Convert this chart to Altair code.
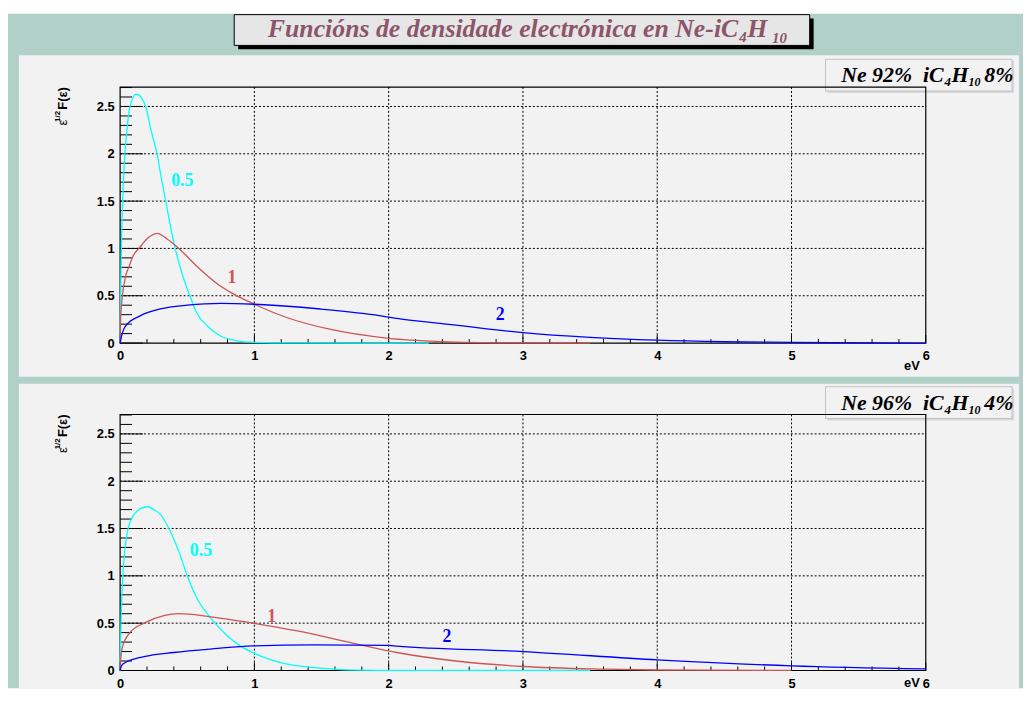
import altair as alt
import pandas as pd

# ---------------- data ----------------
series_names = ["0.5", "1", "2"]
series_colors = ["#00ffff", "#cc5555", "#0000ff"]

# top panel: Ne 92% iC4H10 8%
top_c_x = [0, 0.005, 0.01, 0.025, 0.05, 0.074, 0.12, 0.16, 0.19, 0.232, 0.275, 0.31, 0.34, 0.373, 0.41, 0.46, 0.52, 0.57, 0.65, 0.746, 0.87, 1.0, 1.3, 2.3]
top_c_y = [0, 0.6, 1.05, 1.72, 2.24, 2.5, 2.63, 2.59, 2.5, 2.24, 2.0, 1.72, 1.5, 1.25, 1.0, 0.74, 0.5, 0.32, 0.18, 0.077, 0.024, 0.007, 0.001, 0]
top_r_x = [0, 0.005, 0.017, 0.04, 0.067, 0.1, 0.14, 0.215, 0.276, 0.35, 0.437, 0.573, 0.72, 0.83, 1.0, 1.24, 1.56, 2.0, 2.4, 2.8, 3.5]
top_r_y = [0, 0.3, 0.5, 0.7, 0.81, 0.93, 1.0, 1.12, 1.16, 1.1, 1.0, 0.81, 0.63, 0.53, 0.41, 0.27, 0.146, 0.05, 0.015, 0.003, 0]
top_b_x = [0, 0.01, 0.04, 0.153, 0.3, 0.5, 0.75, 1.0, 1.49, 1.88, 2.06, 2.5, 2.73, 3.0, 3.5, 4.0, 4.5, 5.0, 6.0]
top_b_y = [0, 0.07, 0.18, 0.29, 0.36, 0.4, 0.42, 0.41, 0.36, 0.3, 0.26, 0.19, 0.15, 0.11, 0.06, 0.03, 0.014, 0.007, 0.0]

# bottom panel: Ne 96% iC4H10 4%
bot_c_x = [0, 0.005, 0.01, 0.03, 0.06, 0.104, 0.15, 0.21, 0.25, 0.3, 0.363, 0.437, 0.5, 0.573, 0.66, 0.707, 0.795, 0.894, 1.0, 1.21, 1.49, 1.68, 2.0, 3.5]
bot_c_y = [0, 0.4, 0.67, 1.19, 1.5, 1.65, 1.71, 1.73, 1.7, 1.65, 1.5, 1.26, 1.0, 0.76, 0.58, 0.5, 0.37, 0.26, 0.18, 0.077, 0.024, 0.007, 0.002, 0]
bot_r_x = [0, 0.005, 0.017, 0.067, 0.178, 0.326, 0.437, 0.66, 0.99, 1.31, 1.73, 2.06, 2.5, 3.0, 3.6, 4.0, 5.0]
bot_r_y = [0, 0.13, 0.25, 0.39, 0.5, 0.58, 0.6, 0.57, 0.5, 0.42, 0.29, 0.19, 0.1, 0.042, 0.014, 0.005, 0]
bot_b_x = [0, 0.01, 0.03, 0.178, 0.4, 0.7, 0.99, 1.44, 2.0, 2.06, 3.0, 4.0, 5.0, 6.0]
bot_b_y = [0, 0.05, 0.077, 0.146, 0.19, 0.23, 0.26, 0.27, 0.265, 0.258, 0.2, 0.112, 0.049, 0.017]

# curve labels
top_lab_x = [0.463, 0.833, 2.83]
top_lab_y = [1.71, 0.686, 0.293]
bot_lab_x = [0.602, 1.128, 2.435]
bot_lab_y = [1.26, 0.563, 0.356]

# axes
x_major = [0, 1, 2, 3, 4, 5, 6]
y_major = [0, 0.5, 1, 1.5, 2, 2.5]
x_grid = [1, 2, 3, 4, 5]
y_grid = [0.5, 1, 1.5, 2, 2.5]
x_minor = [round(i * 0.2, 1) for i in range(31) if i % 5]
y_minor = [round(i * 0.1, 1) for i in range(28) if i % 5]
X_MAX = 6
Y_MAX = 2.705

NB = "\u00a0"
title_main = "Funcións de densidade electrónica en Ne-iC"
top_legend = ["Ne 92%" + NB + NB + "iC", "4", "H", "10", "8%"]
bot_legend = ["Ne 96%" + NB + NB + "iC", "4", "H", "10", "4%"]

# ---------------- style ----------------
W, H = 812, 258
GREEN = "#b0d0c8"
PANEL = "#f2f2f2"
TITLE_COL = "#8c5569"
SERIF = "Liberation Serif"
SANS = "Liberation Sans"

one = pd.DataFrame({"a": [0]})
xs = alt.Scale(domain=[0, X_MAX], nice=False, zero=False)
ys = alt.Scale(domain=[0, Y_MAX], nice=False, zero=False)
cs = alt.Scale(domain=series_names, range=series_colors)

ax_common = dict(grid=False, ticks=False, domain=False, labelFont=SANS, labelFontWeight="bold",
                 labelFontSize=13, labelColor="black", labelFlush=False, labelOverlap=False,
                 title=None, zindex=1)
x_axis = alt.Axis(values=x_major, format="d", labelPadding=7, **ax_common)
y_axis = alt.Axis(values=y_major, format="~g", labelPadding=6, **ax_common)


def X(f="x"):
    return alt.X(f + ":Q", scale=xs, axis=x_axis)


def Y(f="y"):
    return alt.Y(f + ":Q", scale=ys, axis=y_axis)


def rect(x1, x2, y1, y2, **kw):
    return alt.Chart(one).mark_rect(**kw).encode(
        x=alt.value(x1), x2=alt.value(x2), y=alt.value(y1), y2=alt.value(y2))


def txt(s, x, y, **kw):
    return alt.Chart(one).mark_text(text=s, **kw).encode(x=alt.value(x), y=alt.value(y))


def panel(curves, lab_x, lab_y, legend, top):
    rows = []
    for name, (cx, cy) in zip(series_names, curves):
        for a, b in zip(cx, cy):
            rows.append({"x": a, "y": b, "s": name})
    df = pd.DataFrame(rows)
    labdf = pd.DataFrame({"x": lab_x, "y": lab_y, "s": series_names})

    layers = []
    if top:
        layers.append(rect(-113, 910, -74, 606, fill=GREEN))
        layers.append(rect(-102, 906, -32, 292, fill=PANEL))
        layers.append(rect(119, 699, -69, -38, fill="black"))
        layers.append(rect(115, 695, -73, -42, fill="#e6e6e6", stroke="black", strokeWidth=1))
        tk = dict(font=SERIF, fontWeight="bold", fontStyle="italic", color=TITLE_COL, baseline="alphabetic")
        layers.append(txt(title_main, 623, -50, align="right", fontSize=26, **tk))
        layers.append(txt("4", 624, -45, align="left", fontSize=15, **tk))
        layers.append(txt("H", 632, -50, align="left", fontSize=26, **tk))
        layers.append(txt("10", 657, -44, align="left", fontSize=15, **tk))
    else:
        layers.append(rect(-102, 906, -31, 276, fill=PANEL))

    # legend box
    layers.append(rect(713, 901, -26, 6, fill="#d8d8d8"))
    layers.append(rect(711, 899, -28, 4, fill="#f2f2f2", stroke="#c0c0c0", strokeWidth=1))
    lk = dict(font=SERIF, fontWeight="bold", fontStyle="italic", color="black", baseline="alphabetic")
    layers.append(txt(legend[0], 830, -5, align="right", fontSize=22, **lk))
    layers.append(txt(legend[1], 831, -1, align="left", fontSize=13, **lk))
    layers.append(txt(legend[2], 838, -5, align="left", fontSize=22, **lk))
    layers.append(txt(legend[3], 855, -1, align="left", fontSize=12, **lk))
    layers.append(txt(legend[4], 871, -5, align="left", fontSize=22, **lk))

    # grid
    dash = dict(color="black", strokeDash=[2, 2], strokeWidth=1)
    layers.append(alt.Chart(pd.DataFrame({"x": x_grid})).mark_rule(**dash).encode(
        x=X(), y=alt.value(0), y2=alt.value(H)))
    layers.append(alt.Chart(pd.DataFrame({"y": y_grid})).mark_rule(**dash).encode(
        y=Y(), x=alt.value(0), x2=alt.value(W)))

    # ticks (inside the frame)
    layers.append(alt.Chart(pd.DataFrame({"x": x_minor})).mark_rule(color="black").encode(
        x=X(), y=alt.value(H), y2=alt.value(H - 4)))
    layers.append(alt.Chart(pd.DataFrame({"x": x_major})).mark_rule(color="black").encode(
        x=X(), y=alt.value(H), y2=alt.value(H - 8)))
    layers.append(alt.Chart(pd.DataFrame({"y": y_minor})).mark_rule(color="black").encode(
        y=Y(), x=alt.value(0), x2=alt.value(12)))
    layers.append(alt.Chart(pd.DataFrame({"y": y_major})).mark_rule(color="black").encode(
        y=Y(), x=alt.value(0), x2=alt.value(23)))

    # frame
    layers.append(rect(0, W, 0, H, fillOpacity=0, stroke="black", strokeWidth=1.2))

    # curves
    layers.append(alt.Chart(df).mark_line(strokeWidth=1.3, interpolate="monotone").encode(
        x=X(), y=Y(),
        color=alt.Color("s:N", scale=cs, legend=None),
        order=alt.Order("x:Q"),
    ))
    layers.append(alt.Chart(labdf).mark_text(font=SERIF, fontWeight="bold", fontSize=18,
                                               align="center", baseline="middle").encode(
        x=X(), y=Y(),
        text="s:N",
        color=alt.Color("s:N", scale=cs, legend=None),
    ))

    # axis titles
    yk = dict(font=SANS, color="black", angle=270, align="right", baseline="alphabetic")
    layers.append(txt("F(ε)", -54, 0, fontSize=13, fontWeight="bold", **yk))
    layers.append(txt("1/2", -61, 24, fontSize=8, fontWeight="bold", **yk))
    layers.append(txt("ε", -54, 33, fontSize=13, **yk))
    layers.append(txt("eV", 806, 285 if top else 275, font=SANS, fontWeight="bold", fontSize=13,
                      align="right", baseline="alphabetic", color="black"))

    return alt.layer(*layers).properties(width=W, height=H)


top_chart = panel([(top_c_x, top_c_y), (top_r_x, top_r_y), (top_b_x, top_b_y)],
                  top_lab_x, top_lab_y, top_legend, True)
bot_chart = panel([(bot_c_x, bot_c_y), (bot_r_x, bot_r_y), (bot_b_x, bot_b_y)],
                  bot_lab_x, bot_lab_y, bot_legend, False)

chart = alt.vconcat(top_chart, bot_chart, spacing=72, bounds="flush").properties(
    padding={"top": 3, "left": 0, "right": 0, "bottom": 0},
    background="white",
).configure_view(strokeWidth=0)

chart.save("out.html", embed_options={"renderer": "svg", "actions": False})
